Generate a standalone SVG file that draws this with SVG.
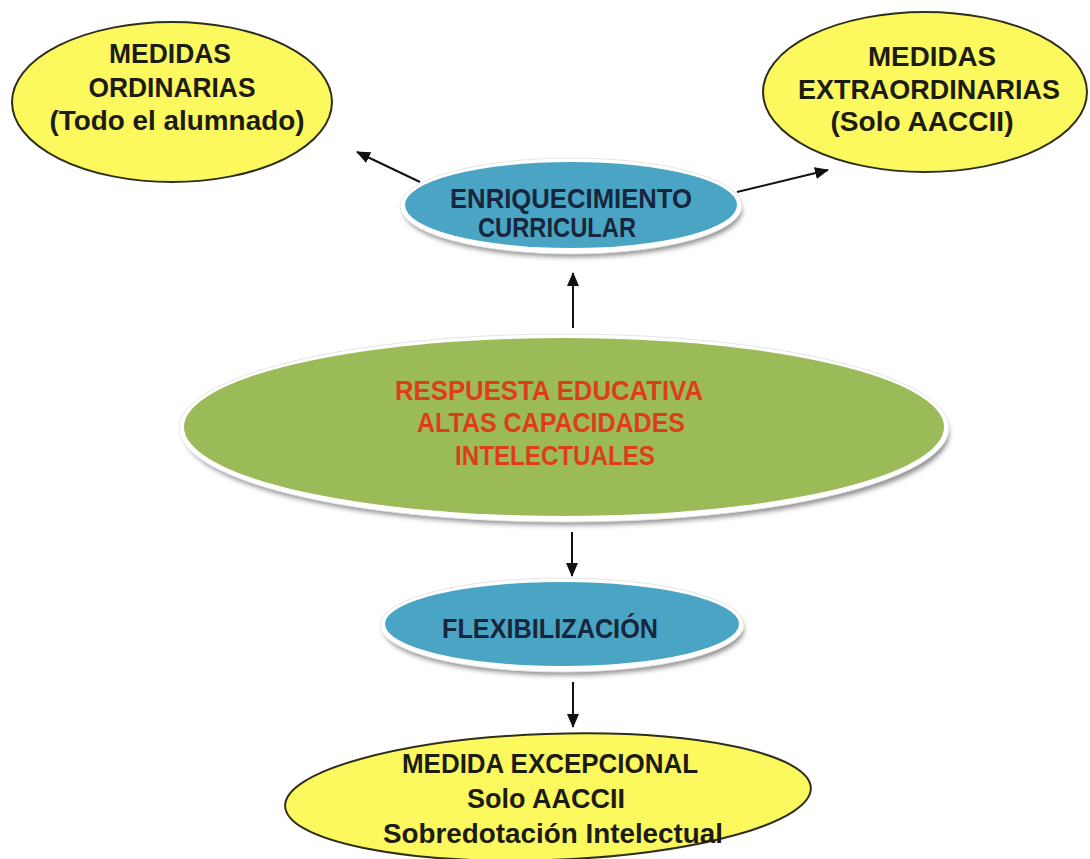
<svg xmlns="http://www.w3.org/2000/svg" width="1090" height="859" viewBox="0 0 1090 859">
  <defs>
    <filter id="soft" x="-10%" y="-30%" width="120%" height="160%">
      <feGaussianBlur stdDeviation="2.5"/>
    </filter>
    <marker id="arrow" viewBox="0 0 14 12" refX="13" refY="6" markerWidth="14" markerHeight="12" markerUnits="userSpaceOnUse" orient="auto">
      <path d="M0,0 L14,6 L0,12 z" fill="#111"/>
    </marker>
    <style>
      text { font-family: "Liberation Sans", Arial, sans-serif; font-weight: bold; text-anchor: middle; }
      .yellow { fill: #fbf95e; stroke: #2f2e1c; stroke-width: 2; }
      .blue { fill: #4aa5c5; }
      .green { fill: #9bbb59; }
      .rim { fill: #ffffff; stroke: #e4e6e4; stroke-width: 1; }
      .shade { fill: #8e8e8e; filter: url(#soft); }
      .t-dark { fill: #1c1c14; font-size: 28px; }
      .t-navy { fill: #17263b; font-size: 28px; }
      .t-red { fill: #de3d1c; font-size: 27px; }
      .link { stroke: #111; stroke-width: 2; fill: none; marker-end: url(#arrow); }
    </style>
  </defs>

  <rect width="1090" height="859" fill="#ffffff"/>

  <!-- connectors -->
  <g id="connectors">
    <line class="link" x1="420" y1="182" x2="357" y2="152"/>
    <line class="link" x1="737" y1="192" x2="828" y2="170"/>
    <line class="link" x1="573" y1="328" x2="573" y2="273"/>
    <line class="link" x1="572" y1="532" x2="572" y2="576"/>
    <line class="link" x1="573" y1="682" x2="573" y2="727"/>
  </g>

  <g id="medidas-ordinarias">
    <ellipse class="yellow" cx="172" cy="102" rx="160" ry="80"/>
    <text class="t-dark" x="170" y="63" textLength="122" lengthAdjust="spacingAndGlyphs">MEDIDAS</text>
    <text class="t-dark" x="172" y="97" textLength="167" lengthAdjust="spacingAndGlyphs">ORDINARIAS</text>
    <text class="t-dark" x="177" y="130" textLength="255" lengthAdjust="spacingAndGlyphs">(Todo el alumnado)</text>
  </g>

  <g id="medidas-extraordinarias">
    <ellipse class="yellow" cx="925" cy="92" rx="162" ry="80"/>
    <text class="t-dark" x="932" y="66" textLength="128" lengthAdjust="spacingAndGlyphs">MEDIDAS</text>
    <text class="t-dark" x="929" y="99" textLength="262" lengthAdjust="spacingAndGlyphs">EXTRAORDINARIAS</text>
    <text class="t-dark" x="922" y="131" textLength="183" lengthAdjust="spacingAndGlyphs">(Solo AACCII)</text>
  </g>

  <g id="enriquecimiento">
    <ellipse class="shade" cx="573" cy="211" rx="169" ry="46"/>
    <ellipse class="rim" cx="571" cy="206" rx="171" ry="48"/>
    <ellipse class="blue" cx="571" cy="205" rx="166" ry="43"/>
    <text class="t-navy" x="571" y="208" textLength="242" lengthAdjust="spacingAndGlyphs">ENRIQUECIMIENTO</text>
    <text class="t-navy" x="557" y="237" textLength="158" lengthAdjust="spacingAndGlyphs">CURRICULAR</text>
  </g>

  <g id="respuesta-educativa">
    <ellipse class="shade" cx="567" cy="434" rx="382" ry="91"/>
    <ellipse class="rim" cx="564" cy="428" rx="385" ry="94"/>
    <ellipse class="green" cx="564" cy="427" rx="380" ry="89"/>
    <text class="t-red" x="549" y="400" textLength="308" lengthAdjust="spacingAndGlyphs">RESPUESTA EDUCATIVA</text>
    <text class="t-red" x="551" y="432" textLength="268" lengthAdjust="spacingAndGlyphs">ALTAS CAPACIDADES</text>
    <text class="t-red" x="555" y="465" textLength="200" lengthAdjust="spacingAndGlyphs">INTELECTUALES</text>
  </g>

  <g id="flexibilizacion">
    <ellipse class="shade" cx="564" cy="630" rx="180" ry="45"/>
    <ellipse class="rim" cx="562" cy="625" rx="182" ry="47"/>
    <ellipse class="blue" cx="562" cy="624" rx="177" ry="42"/>
    <text class="t-navy" x="550" y="638" textLength="216" lengthAdjust="spacingAndGlyphs">FLEXIBILIZACIÓN</text>
  </g>

  <g id="medida-excepcional">
    <ellipse class="yellow" cx="548" cy="797" rx="263" ry="63" transform="rotate(-2 548 797)"/>
    <text class="t-dark" x="550" y="773" textLength="296" lengthAdjust="spacingAndGlyphs">MEDIDA EXCEPCIONAL</text>
    <text class="t-dark" x="546" y="808" textLength="158" lengthAdjust="spacingAndGlyphs">Solo AACCII</text>
    <text class="t-dark" x="553" y="843" textLength="340" lengthAdjust="spacingAndGlyphs">Sobredotación Intelectual</text>
  </g>
</svg>
